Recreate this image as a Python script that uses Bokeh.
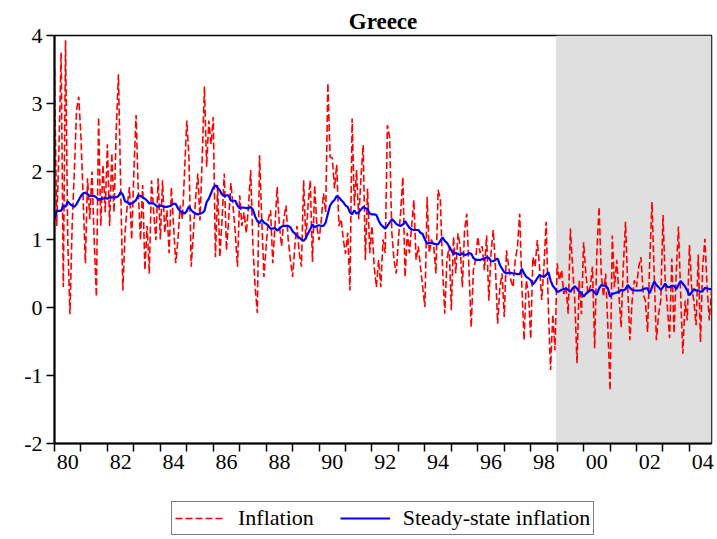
import pandas as pd
from bokeh.plotting import figure
from bokeh.layouts import column
from bokeh.models import Range1d, FixedTicker, BoxAnnotation, Legend, LegendItem
from bokeh.embed import file_html
from bokeh.resources import INLINE

# ---- data (monthly, 1980:01 - 2004:11) ----
inflation = [
    3.5, 1.2, 2.3, 3.75, 0.3, 3.93, 1.0, -0.1, 1.2, 2.0, 2.9, 3.1,          # 1980
    2.5, 1.6, 0.65, 1.9, 1.3, 2.0, 1.0, 0.16, 2.8, 1.2, 2.1, 1.4,           # 1981
    2.4, 1.2, 2.27, 1.4, 2.6, 3.43, 1.8, 0.25, 1.1, 1.5, 1.77, 1.0,         # 1982
    2.0, 2.83, 1.7, 0.99, 1.8, 0.55, 1.2, 0.5, 1.87, 1.4, 0.99, 1.9,        # 1983
    1.0, 1.87, 1.1, 1.43, 0.8, 1.77, 1.2, 0.65, 1.0, 1.5, 1.3, 2.0,         # 1984
    2.75, 2.2, 0.6, 1.1, 1.6, 1.97, 1.28, 2.2, 3.25, 2.07, 2.75, 2.4,       # 1985
    2.8, 0.74, 1.8, 0.74, 1.3, 1.97, 0.84, 1.3, 1.83, 1.48, 1.1, 0.6,       # 1986
    1.65, 1.2, 1.4, 1.09, 1.5, 2.02, 0.9, 0.3, -0.08, 2.24, 1.3, 0.45,      # 1987
    0.9, 1.3, 1.43, 0.65, 1.2, 1.77, 1.2, 0.9, 1.3, 1.5, 1.0, 0.7,          # 1988
    0.45, 0.9, 1.2, 0.8, 0.6, 1.87, 1.0, 1.5, 1.87, 0.67, 1.8, 1.2,         # 1989
    0.99, 1.28, 1.68, 1.4, 3.3, 2.21, 2.2, 1.75, 2.1, 1.2, 1.3, 1.0,        # 1990
    0.79, 1.1, 0.25, 2.78, 1.5, 2.02, 1.3, 1.9, 2.39, 0.7, 1.75, 0.8,       # 1991
    1.2, 0.6, 0.3, 0.7, 0.3, 1.0, 0.8, 2.68, 2.5, 1.1, 0.7, 0.5,            # 1992
    1.0, 1.4, 1.92, 0.45, 1.1, 0.8, 1.2, 1.58, 0.7, 0.9, 0.6, 0.3,          # 1993
    0.01, 1.63, 0.8, 1.0, 0.9, 0.5, 1.73, 1.6, 0.6, -0.09, 0.7, 0.9,        # 1994
    -0.04, 1.04, 0.5, 1.09, 0.9, 0.3, 1.14, 1.38, 0.55, -0.29, 0.55, 0.7,   # 1995
    1.04, 0.8, 0.9, 0.55, 1.06, 0.1, 0.8, 1.14, 0.6, -0.24, 0.3, 0.5,       # 1996
    -0.14, 0.84, 0.6, 0.4, 0.3, 0.7, 0.9, 1.38, 0.3, -0.48, 0.4, 0.2,       # 1997
    -0.46, 0.74, 0.6, 0.99, 0.6, 0.11, 0.6, 1.26, 0.0, -0.92, -0.1, -0.63,  # 1998
    0.65, 0.4, 0.55, 0.2, 0.3, -0.09, 1.16, 0.6, 0.1, -0.82, 0.4, -0.1,     # 1999
    0.96, 0.5, 0.2, 0.3, 0.6, -0.6, 0.8, 1.48, 0.5, 0.16, 0.5, -0.3,        # 2000
    -1.22, 1.06, 0.3, 0.7, 0.2, -0.29, 0.6, 1.26, 0.3, -0.48, 0.1, 0.4,     # 2001
    0.3, 0.6, 0.74, 0.2, 0.1, -0.36, 0.7, 1.55, 0.5, -0.48, -0.1, 0.11,     # 2002
    1.36, 0.4, 0.0, -0.45, 0.72, -0.38, 0.5, 1.19, 0.2, -0.68, 0.1, -0.19,  # 2003
    0.92, 0.3, 0.1, -0.26, 0.78, -0.51, 0.6, 1.01, 0.3, -0.19, 0.25,        # 2004
]

steady_state = [
    1.30, 1.42, 1.42, 1.42, 1.50, 1.48, 1.56, 1.52, 1.50, 1.48, 1.52, 1.58,  # 1980
    1.64, 1.68, 1.69, 1.66, 1.64, 1.64, 1.64, 1.62, 1.58, 1.60, 1.60, 1.61,  # 1981
    1.60, 1.62, 1.62, 1.62, 1.62, 1.64, 1.70, 1.66, 1.56, 1.55, 1.52, 1.53,  # 1982
    1.55, 1.58, 1.65, 1.64, 1.62, 1.60, 1.57, 1.53, 1.53, 1.53, 1.50, 1.48,  # 1983
    1.50, 1.49, 1.48, 1.48, 1.49, 1.50, 1.53, 1.52, 1.46, 1.42, 1.40, 1.38,  # 1984
    1.42, 1.49, 1.43, 1.40, 1.38, 1.37, 1.38, 1.39, 1.42, 1.55, 1.60, 1.68,  # 1985
    1.76, 1.80, 1.76, 1.72, 1.66, 1.64, 1.65, 1.65, 1.57, 1.57, 1.57, 1.50,  # 1986
    1.46, 1.47, 1.47, 1.46, 1.46, 1.48, 1.44, 1.34, 1.27, 1.24, 1.29, 1.25,  # 1987
    1.23, 1.20, 1.16, 1.16, 1.17, 1.13, 1.16, 1.19, 1.20, 1.20, 1.20, 1.18,  # 1988
    1.12, 1.09, 1.05, 1.03, 1.00, 0.98, 1.02, 1.09, 1.15, 1.22, 1.18, 1.20,  # 1989
    1.21, 1.20, 1.20, 1.25, 1.38, 1.50, 1.55, 1.58, 1.64, 1.62, 1.58, 1.55,  # 1990
    1.50, 1.48, 1.40, 1.37, 1.43, 1.38, 1.40, 1.44, 1.48, 1.46, 1.45, 1.38,  # 1991
    1.37, 1.37, 1.36, 1.28, 1.22, 1.19, 1.16, 1.20, 1.25, 1.30, 1.27, 1.23,  # 1992
    1.21, 1.20, 1.22, 1.27, 1.22, 1.17, 1.15, 1.14, 1.14, 1.14, 1.10, 1.08,  # 1993
    1.00, 0.94, 0.95, 0.95, 0.94, 0.93, 0.93, 0.98, 1.03, 0.98, 0.95, 0.90,  # 1994
    0.84, 0.79, 0.80, 0.79, 0.77, 0.80, 0.77, 0.78, 0.80, 0.79, 0.73, 0.70,  # 1995
    0.70, 0.70, 0.71, 0.72, 0.74, 0.73, 0.68, 0.68, 0.70, 0.72, 0.63, 0.57,  # 1996
    0.52, 0.50, 0.51, 0.51, 0.50, 0.50, 0.49, 0.49, 0.57, 0.50, 0.45, 0.43,  # 1997
    0.40, 0.34, 0.38, 0.43, 0.48, 0.46, 0.45, 0.48, 0.52, 0.40, 0.32, 0.28,  # 1998
    0.23, 0.24, 0.26, 0.27, 0.28, 0.26, 0.23, 0.28, 0.31, 0.28, 0.23, 0.21,  # 1999
    0.16, 0.20, 0.23, 0.25, 0.26, 0.22, 0.19, 0.28, 0.33, 0.32, 0.32, 0.28,  # 2000
    0.16, 0.20, 0.21, 0.22, 0.23, 0.26, 0.25, 0.27, 0.33, 0.29, 0.26, 0.25,  # 2001
    0.25, 0.25, 0.25, 0.27, 0.28, 0.28, 0.21, 0.30, 0.38, 0.33, 0.30, 0.26,  # 2002
    0.30, 0.35, 0.30, 0.30, 0.32, 0.32, 0.27, 0.33, 0.39, 0.35, 0.31, 0.25,  # 2003
    0.18, 0.22, 0.27, 0.25, 0.25, 0.23, 0.24, 0.29, 0.28, 0.27, 0.27,        # 2004
]

label_years = [1980, 1982, 1984, 1986, 1988, 1990, 1992, 1994, 1996, 1998, 2000, 2002, 2004]
year_labels = ["80", "82", "84", "86", "88", "90", "92", "94", "96", "98", "00", "02", "04"]
all_years = list(range(1980, 2005))
y_ticks = [-2, -1, 0, 1, 2, 3, 4]
y_labels = ["-2", "-1", "0", "1", "2", "3", "4"]
shade_start = 1998.96   # start of shaded sub-period

dates = pd.date_range("1980-01-01", periods=len(inflation), freq="MS")
xs = list(dates.year + (dates.month - 1) / 12.0)

FONT = "Liberation Serif"
W = 714

p = figure(width=W, height=486, output_backend="svg", toolbar_location=None,
           x_range=Range1d(xs[0], xs[-1]), y_range=Range1d(-2, 4),
           min_border_left=54, min_border_right=3, min_border_top=35, min_border_bottom=43,
           title="Greece")
p.background_fill_color = "white"
p.border_fill_color = "white"
p.outline_line_color = "black"
p.outline_line_width = 1.5
p.xgrid.visible = False
p.ygrid.visible = False

p.title.align = "center"
p.title.text_font = FONT
p.title.text_font_style = "bold"
p.title.text_font_size = "23px"
p.title.text_color = "black"
p.title.standoff = 4
p.title.offset = 0

shade = BoxAnnotation(left=shade_start, fill_color="#dfdfdf", fill_alpha=1.0,
                      line_color=None, level="underlay")
p.add_layout(shade)

r_inf = p.line(xs, inflation, line_color="#ff0000", line_width=1.6, line_dash="7 3")
r_ss = p.line(xs, steady_state, line_color="#0000ff", line_width=2.2)

# x axis: tick marks at every year start, labels centred in even years
p.xaxis.ticker = FixedTicker(ticks=[y + 0.5 for y in label_years], minor_ticks=all_years)
p.xaxis.major_label_overrides = {y + 0.5: lab for y, lab in zip(label_years, year_labels)}
p.xaxis.major_tick_line_color = None
p.xaxis.minor_tick_out = 8
p.xaxis.minor_tick_in = 0
p.xaxis.minor_tick_line_width = 1.5
p.xaxis.minor_tick_line_color = "black"
p.xaxis.major_label_standoff = 3

p.yaxis.ticker = FixedTicker(ticks=y_ticks)
p.yaxis.major_label_overrides = {t: lab for t, lab in zip(y_ticks, y_labels)}
p.yaxis.major_tick_out = 8
p.yaxis.major_tick_in = 0
p.yaxis.major_tick_line_width = 1.5
p.yaxis.minor_tick_line_color = None
p.yaxis.major_label_standoff = 4

for ax in (p.xaxis, p.yaxis):
    ax.axis_line_width = 2
    ax.axis_line_color = "black"
    ax.major_label_text_font = FONT
    ax.major_label_text_font_size = "22px"
    ax.major_label_text_color = "black"

# ---- legend strip below the chart ----
leg_h = 52
p2 = figure(width=W, height=leg_h, output_backend="svg", toolbar_location=None,
            x_range=Range1d(0, 1), y_range=Range1d(0, 1),
            x_axis_location=None, y_axis_location=None,
            min_border_left=0, min_border_right=0, min_border_top=0, min_border_bottom=0)
p2.outline_line_color = None
p2.grid.visible = False
p2.background_fill_color = "white"
p2.border_fill_color = "white"
nan = float("nan")
# invisible stand-in renderers that only supply the legend samples
l1 = p2.line(x=[nan, nan], y=[nan, nan], line_color="#ff0000", line_width=1.6, line_dash="7 3")
l2 = p2.line(x=[nan, nan], y=[nan, nan], line_color="#0000ff", line_width=2.2)

legend = Legend(items=[LegendItem(label="Inflation", renderers=[l1]),
                       LegendItem(label="Steady-state inflation", renderers=[l2])],
                orientation="horizontal", location=(117, 3))
legend.label_text_font = FONT
legend.label_text_font_size = "22px"
legend.label_text_color = "black"
legend.glyph_width = 50
legend.glyph_height = 20
legend.label_standoff = 13
legend.spacing = 26
legend.padding = 3
legend.margin = 0
legend.border_line_color = "black"
legend.border_line_width = 1
legend.background_fill_color = "white"
legend.background_fill_alpha = 1.0
p2.add_layout(legend)

layout = column(p, p2, spacing=0)
open("out.html", "w").write(file_html(layout, INLINE))
